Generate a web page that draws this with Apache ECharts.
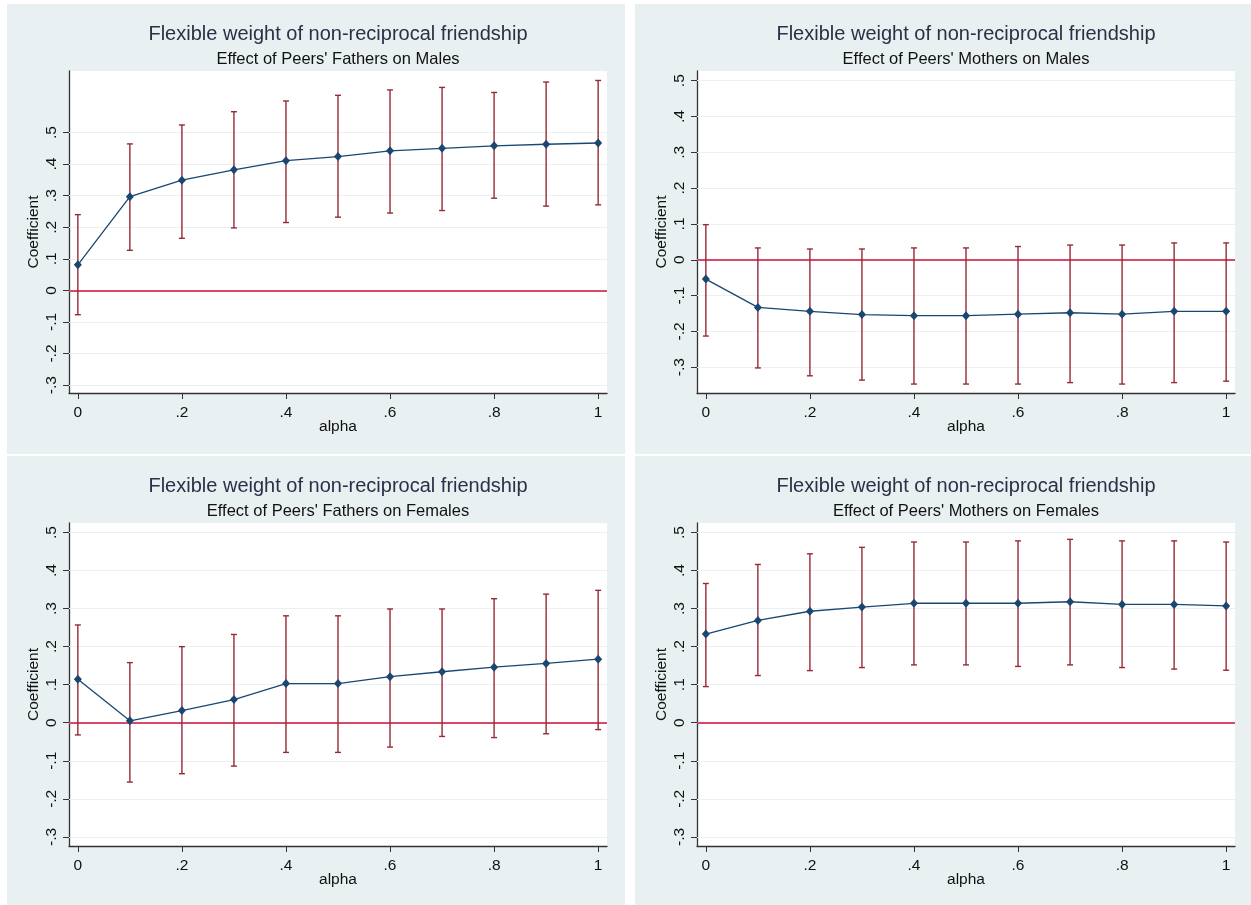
<!doctype html>
<html>
<head>
<meta charset="utf-8">
<title>Flexible weight of non-reciprocal friendship</title>
<style>
	body { margin: 0; background: #fff; }
	.panel { position: absolute; background: #e9f0f2; }
</style>
</head>
<body>
<div id="p1" class="panel" style="left:7px;top:4px;width:618px;height:450px"></div>
<div id="p2" class="panel" style="left:635px;top:4px;width:616px;height:450px"></div>
<div id="p3" class="panel" style="left:7px;top:456px;width:618px;height:449px"></div>
<div id="p4" class="panel" style="left:635px;top:456px;width:616px;height:449px"></div>

<script src="https://cdn.jsdelivr.net/npm/echarts@6/dist/echarts.min.js"></script>
<script>
// alpha grid and axis labels
const alpha = [0, 0.1, 0.2, 0.3, 0.4, 0.5, 0.6, 0.7, 0.8, 0.9, 1];
const xTicks = [0, 0.2, 0.4, 0.6, 0.8, 1];
const yTicks = [-0.3, -0.2, -0.1, 0, 0.1, 0.2, 0.3, 0.4, 0.5];

// Effect of Peers' Fathers on Males
const fmCoef = [0.081, 0.297, 0.349, 0.382, 0.411, 0.424, 0.442, 0.450, 0.458, 0.463, 0.467];
const fmLow  = [-0.077, 0.127, 0.165, 0.198, 0.215, 0.232, 0.245, 0.253, 0.292, 0.267, 0.271];
const fmHigh = [0.240, 0.464, 0.524, 0.566, 0.600, 0.618, 0.635, 0.643, 0.627, 0.660, 0.665];

// Effect of Peers' Mothers on Males
const mmCoef = [-0.054, -0.133, -0.144, -0.153, -0.156, -0.156, -0.152, -0.148, -0.152, -0.144, -0.144];
const mmLow  = [-0.213, -0.302, -0.324, -0.336, -0.347, -0.347, -0.347, -0.343, -0.347, -0.343, -0.339];
const mmHigh = [0.098, 0.033, 0.030, 0.030, 0.033, 0.033, 0.037, 0.041, 0.041, 0.047, 0.047];

// Effect of Peers' Fathers on Females
const ffCoef = [0.114, 0.005, 0.032, 0.061, 0.103, 0.103, 0.121, 0.134, 0.146, 0.156, 0.167];
const ffLow  = [-0.032, -0.156, -0.134, -0.114, -0.078, -0.078, -0.064, -0.036, -0.039, -0.029, -0.018];
const ffHigh = [0.257, 0.158, 0.200, 0.232, 0.281, 0.281, 0.299, 0.299, 0.326, 0.338, 0.348];

// Effect of Peers' Mothers on Females
const mfCoef = [0.233, 0.269, 0.293, 0.304, 0.314, 0.314, 0.314, 0.318, 0.311, 0.311, 0.307];
const mfLow  = [0.095, 0.124, 0.137, 0.145, 0.152, 0.152, 0.148, 0.152, 0.145, 0.141, 0.138];
const mfHigh = [0.366, 0.416, 0.444, 0.461, 0.475, 0.475, 0.478, 0.482, 0.478, 0.478, 0.475];

const mainTitle = 'Flexible weight of non-reciprocal friendship';

function stataNum(v) {
	if (Math.abs(v) < 1e-9) return '0';
	if (Math.abs(v - 1) < 1e-9) return '1';
	let s = Math.abs(v).toFixed(1).replace(/^0/, '');
	return (v < 0 ? '-' : '') + s;
}

function makePanel(id, subtitle, coef, low, high, yMin, yMax, plotH) {
	let chart = echarts.init(document.getElementById(id), null, {renderer: 'canvas'});
	let gLeft = 62, gTop = 67, gWidth = 538;
	let cx = gLeft + gWidth / 2;

	let bars = alpha.map((a, i) => [a, low[i], high[i]]);
	let pts = alpha.map((a, i) => [a, coef[i]]);

	let opts = {
		animation: false,
		textStyle: {fontFamily: 'Liberation Sans, Arial, sans-serif'},
		graphic: [
			{type: 'text', x: cx, y: 30, style: {text: mainTitle, font: '20px "Liberation Sans", Arial', fill: '#2a3146', textAlign: 'center', textVerticalAlign: 'middle'}},
			{type: 'text', x: cx, y: 55, style: {text: subtitle, font: '16.5px "Liberation Sans", Arial', fill: '#111', textAlign: 'center', textVerticalAlign: 'middle'}}
		],
		grid: {
			left: gLeft, top: gTop, width: gWidth, height: plotH,
			show: true, backgroundColor: '#fff', borderWidth: 0
		},
		xAxis: {
			type: 'value', min: -0.017, max: 1.017,
			name: 'alpha', nameLocation: 'middle', nameGap: 26, nameMoveOverlap: false,
			nameTextStyle: {fontSize: 15.5, color: '#111'},
			axisLine: {show: true, onZero: false, lineStyle: {color: '#333', width: 1.3}},
			axisTick: {show: true, length: 6, customValues: xTicks, lineStyle: {color: '#333'}},
			axisLabel: {customValues: xTicks, fontSize: 15.5, color: '#111', margin: 12, formatter: stataNum},
			splitLine: {show: false}
		},
		yAxis: {
			type: 'value', min: yMin, max: yMax,
			name: 'Coefficient', nameLocation: 'middle', nameGap: 27, nameRotate: 90, nameMoveOverlap: false,
			nameTextStyle: {fontSize: 15.5, color: '#111'},
			axisLine: {show: true, onZero: false, lineStyle: {color: '#333', width: 1.3}},
			axisTick: {show: true, length: 6, customValues: yTicks, lineStyle: {color: '#333'}},
			axisLabel: {customValues: yTicks, fontSize: 15.5, color: '#111', rotate: 90, margin: 9, formatter: stataNum},
			splitLine: {show: false}
		},
		series: [
			{
				type: 'custom',
				data: bars,
				z: 2,
				renderItem: function(params, api) {
					let top = api.coord([api.value(0), api.value(2)]);
					let bot = api.coord([api.value(0), api.value(1)]);
					let w = 3;
					let st = {stroke: '#962a36', lineWidth: 1.4};
					return {
						type: 'group',
						children: [
							{type: 'line', shape: {x1: top[0], y1: top[1], x2: bot[0], y2: bot[1]}, style: st},
							{type: 'line', shape: {x1: top[0] - w, y1: top[1], x2: top[0] + w, y2: top[1]}, style: st},
							{type: 'line', shape: {x1: bot[0] - w, y1: bot[1], x2: bot[0] + w, y2: bot[1]}, style: st}
						]
					};
				},
				markLine: {
					silent: true, symbol: 'none', label: {show: false}, z: 1,
					data: yTicks.filter(v => v !== 0).map(v => ({yAxis: v, lineStyle: {color: '#eaf1f3', width: 1, type: 'solid'}}))
						.concat([{yAxis: 0, lineStyle: {color: '#d44a6a', width: 1.8, type: 'solid'}}])
				}
			},
			{
				type: 'line',
				data: pts,
				z: 3,
				symbol: 'diamond',
				symbolSize: [8, 9],
				lineStyle: {color: '#1a476f', width: 1.3},
				itemStyle: {color: '#1a476f'}
			}
		]
	};
	chart.setOption(opts);
}

makePanel('p1', "Effect of Peers' Fathers on Males", fmCoef, fmLow, fmHigh, -0.325, 0.695, 322);
makePanel('p2', "Effect of Peers' Mothers on Males", mmCoef, mmLow, mmHigh, -0.372, 0.527, 322);
makePanel('p3', "Effect of Peers' Fathers on Females", ffCoef, ffLow, ffHigh, -0.324, 0.525, 323);
makePanel('p4', "Effect of Peers' Mothers on Females", mfCoef, mfLow, mfHigh, -0.324, 0.525, 323);
</script>
</body>
</html>
